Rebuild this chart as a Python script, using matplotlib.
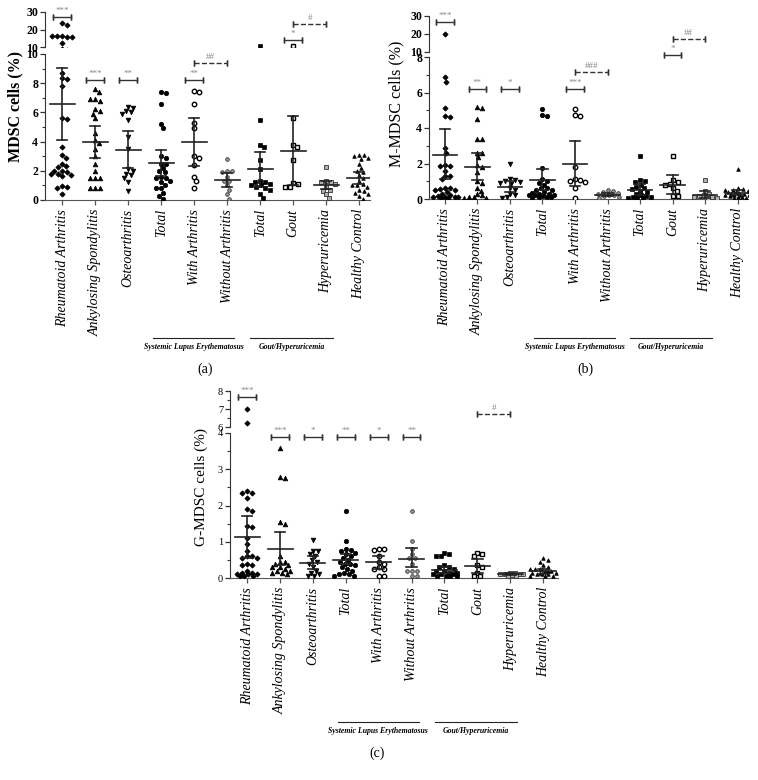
import numpy as np
import matplotlib
matplotlib.use('Agg')
import matplotlib.pyplot as plt
from matplotlib.transforms import blended_transform_factory

plt.rcParams['font.family'] = ['Liberation Serif', 'DejaVu Serif']

W, H = 758, 780

categories = ['Rheumatoid Arthritis', 'Ankylosing Spondylitis', 'Osteoarthritis', 'Total',
              'With Arthritis', 'Without Arthritis', 'Total', 'Gout', 'Hyperuricemia',
              'Healthy Control']
group_names = ['Systemic Lupus Erythematosus', 'Gout/Hyperuricemia']

# ---- panel (a): MDSC cells (%)
mdsc = [
    [23.5, 22.8, 16.5, 16.0, 16.3, 15.8, 16.5, 12.5, 8.7, 8.35, 8.3, 7.8, 5.6, 5.55, 3.6,
     3.1, 2.9, 2.45, 2.3, 2.25, 2.0, 1.9, 1.8, 1.7, 1.65, 2.0, 1.75, 0.95, 0.9, 0.85, 0.4],
    [7.6, 7.4, 6.9, 6.8, 6.9, 6.2, 6.1, 5.9, 5.6, 4.6, 4.1, 3.9, 3.5, 3.0, 2.5, 2.0, 1.5,
     1.5, 1.5, 0.8, 0.8, 0.8],
    [6.4, 6.3, 6.1, 6.0, 5.9, 5.5, 4.3, 3.5, 2.1, 2.0, 1.8, 1.7, 1.5, 1.2, 0.6],
    [7.4, 7.35, 6.6, 5.2, 4.9, 3.0, 2.9, 2.5, 2.5, 2.2, 2.0, 1.9, 1.6, 1.5, 1.5, 1.3, 1.2,
     1.0, 0.8, 0.8, 0.5, 0.3, 0.1],
    [7.45, 7.4, 6.6, 5.3, 4.9, 3.0, 2.9, 2.4, 1.6, 1.3, 0.8],
    [2.8, 2.0, 2.0, 1.9, 1.6, 1.3, 1.3, 1.0, 0.7, 0.4, 0.1],
    [10.3, 5.5, 3.8, 3.6, 2.75, 2.1, 1.3, 1.2, 1.2, 1.1, 1.0, 1.0, 0.9, 0.8, 0.7, 0.4, 0.15],
    [10.3, 5.6, 3.8, 3.6, 2.75, 1.15, 1.1, 0.9, 0.9],
    [2.25, 1.3, 1.25, 1.2, 1.1, 0.9, 0.7, 0.65, 0.4, 0.15],
    [3.1, 3.05, 3.0, 2.9, 2.8, 2.5, 2.2, 2.0, 1.9, 1.7, 1.5, 1.3, 1.1, 1.0, 1.0, 0.9, 0.7,
     0.6, 0.5, 0.4, 0.3, 0.1],
]
mdsc_mean = [6.55, 4.0, 3.45, 2.55, 3.95, 1.35, 2.1, 3.35, 1.0, 1.5]
mdsc_lo = [4.1, 2.9, 2.2, 1.65, 2.3, 0.9, 0.9, 1.0, 0.75, 1.1]
mdsc_hi = [9.05, 5.1, 4.7, 3.45, 5.6, 1.85, 3.3, 5.75, 1.3, 1.9]
mdsc_sig_from = [0, 1, 2, 4, 4, 7, 7]
mdsc_sig_to = [0, 1, 2, 4, 5, 7, 8]
mdsc_sig_y = [27.1, 8.2, 8.2, 8.2, 9.4, 13.8, 23.1]
mdsc_sig_text = ['***', '***', '**', '**', '##', '*', '#']

# ---- panel (b): M-MDSC cells (%)
mmdsc = [
    [20.0, 6.85, 6.6, 5.1, 4.7, 4.6, 2.85, 2.6, 1.9, 1.85, 1.85, 1.6, 1.3, 1.3, 1.1, 0.6,
     0.6, 0.55, 0.5, 0.5, 0.4, 0.3, 0.2, 0.15, 0.1, 0.1, 0.1, 0.05, 0.05, 0.1],
    [5.2, 5.1, 4.5, 3.4, 3.4, 2.6, 2.6, 2.35, 1.9, 1.8, 1.5, 1.0, 0.9, 0.6, 0.45, 0.3, 0.2,
     0.1, 0.1, 0.05, 0.05],
    [2.0, 1.1, 1.05, 1.0, 0.95, 0.9, 0.85, 0.6, 0.5, 0.3, 0.2, 0.1, 0.05],
    [5.05, 4.75, 4.65, 1.75, 1.1, 1.0, 0.9, 0.8, 0.6, 0.6, 0.5, 0.5, 0.4, 0.35, 0.3, 0.3,
     0.25, 0.2, 0.2, 0.15, 0.1, 0.1, 0.1, 0.05],
    [5.05, 4.75, 4.65, 1.8, 1.1, 1.05, 1.0, 0.95, 0.6, 0.05],
    [0.5, 0.45, 0.4, 0.35, 0.3, 0.25, 0.2, 0.15, 0.1, 0.05],
    [2.45, 1.05, 1.0, 0.95, 0.8, 0.7, 0.6, 0.55, 0.45, 0.4, 0.3, 0.2, 0.15, 0.1, 0.1, 0.05,
     0.05, 0.05],
    [2.45, 1.05, 0.95, 0.85, 0.8, 0.6, 0.45, 0.15, 0.15],
    [1.05, 0.45, 0.3, 0.2, 0.15, 0.1, 0.1, 0.05, 0.05],
    [1.7, 0.6, 0.55, 0.5, 0.45, 0.4, 0.35, 0.3, 0.25, 0.2, 0.2, 0.15, 0.1, 0.1, 0.05, 0.05,
     0.3, 0.4, 0.5, 0.2],
]
mmdsc_mean = [2.5, 1.8, 0.7, 1.05, 2.0, 0.25, 0.5, 0.8, 0.25, 0.35]
mmdsc_lo = [1.1, 1.05, 0.4, 0.5, 0.75, 0.15, 0.25, 0.3, 0.05, 0.2]
mmdsc_hi = [3.95, 2.6, 1.0, 1.7, 3.25, 0.35, 0.85, 1.35, 0.45, 0.5]
mmdsc_sig_from = [0, 1, 2, 4, 4, 7, 7]
mmdsc_sig_to = [0, 1, 2, 4, 5, 7, 8]
mmdsc_sig_y = [26.5, 6.2, 6.2, 6.2, 7.17, 8.1, 17.0]
mmdsc_sig_text = ['***', '**', '*', '***', '###', '*', '##']

# ---- panel (c): G-MDSC cells (%)
gmdsc = [
    [7.0, 6.25, 2.4, 2.35, 2.35, 2.2, 1.9, 1.85, 1.43, 1.4, 1.1, 0.95, 0.75, 0.6, 0.6,
     0.55, 0.55, 0.4, 0.35, 0.35, 0.2, 0.15, 0.15, 0.1, 0.1, 0.1, 0.05, 0.05, 0.05],
    [3.6, 2.78, 2.75, 1.55, 1.5, 0.6, 0.45, 0.45, 0.4, 0.35, 0.3, 0.3, 0.25, 0.2, 0.2,
     0.15, 0.15, 0.1],
    [1.05, 0.75, 0.75, 0.65, 0.6, 0.5, 0.45, 0.4, 0.3, 0.2, 0.15, 0.1, 0.05, 0.05],
    [1.85, 1.02, 0.8, 0.78, 0.75, 0.7, 0.65, 0.6, 0.55, 0.5, 0.45, 0.4, 0.38, 0.35, 0.3,
     0.25, 0.2, 0.15, 0.1, 0.1, 0.05, 0.05],
    [0.8, 0.8, 0.78, 0.6, 0.45, 0.4, 0.3, 0.25, 0.25, 0.05, 0.05],
    [1.85, 1.02, 0.8, 0.65, 0.55, 0.55, 0.4, 0.2, 0.2, 0.2, 0.05, 0.05],
    [0.7, 0.65, 0.6, 0.6, 0.35, 0.3, 0.3, 0.25, 0.2, 0.2, 0.15, 0.15, 0.1, 0.1, 0.1, 0.05,
     0.05, 0.05, 0.05],
    [0.7, 0.65, 0.6, 0.35, 0.3, 0.15, 0.05, 0.05],
    [0.15, 0.15, 0.12, 0.1, 0.1, 0.08, 0.05, 0.05, 0.1],
    [0.55, 0.5, 0.45, 0.35, 0.3, 0.25, 0.25, 0.2, 0.2, 0.15, 0.15, 0.1, 0.1, 0.1, 0.05,
     0.05, 0.05, 0.2, 0.25, 0.15],
]
gmdsc_mean = [1.12, 0.8, 0.42, 0.5, 0.43, 0.53, 0.22, 0.33, 0.12, 0.18]
gmdsc_lo = [0.55, 0.35, 0.25, 0.38, 0.25, 0.3, 0.15, 0.15, 0.09, 0.1]
gmdsc_hi = [1.72, 1.28, 0.6, 0.65, 0.62, 0.83, 0.3, 0.52, 0.15, 0.25]
gmdsc_sig_from = [0, 1, 2, 3, 4, 5, 7]
gmdsc_sig_to = [0, 1, 2, 3, 4, 5, 8]
gmdsc_sig_y = [7.68, 3.88, 3.88, 3.88, 3.88, 3.88, 6.7]
gmdsc_sig_text = ['***', '***', '*', '**', '*', '**', '#']

# marker look per category
styles = [
    dict(marker='D', ms=2.7, mfc='k', mec='k'),
    dict(marker='^', ms=3.4, mfc='k', mec='k'),
    dict(marker='v', ms=3.4, mfc='k', mec='k'),
    dict(marker='o', ms=3.2, mfc='k', mec='k'),
    dict(marker='o', ms=3.2, mfc='white', mec='k', mew=1.0),
    dict(marker='o', ms=2.6, mfc='#9a9a9a', mec='#333', mew=0.6),
    dict(marker='s', ms=3.2, mfc='k', mec='k'),
    dict(marker='s', ms=3.2, mfc='white', mec='k', mew=1.0),
    dict(marker='s', ms=2.6, mfc='#b0b0b0', mec='#333', mew=0.6),
    dict(marker='^', ms=2.6, mfc='k', mec='k'),
]


def px_rect(x0, y0, x1, y1):
    return [x0 / W, 1 - y1 / H, (x1 - x0) / W, (y1 - y0) / H]


def swarm(vals, ypx, d=4.5):
    # simple beeswarm in pixel space, returns x offsets in pixels
    placed = []
    offs = []
    for v in vals:
        y = ypx(v)
        cands = [0]
        for k in range(1, 14):
            cands += [k, -k]
        best, best_gap = 0, -1
        for x in cands:
            gap = min([np.hypot(x - px, y - py) for px, py in placed] or [99])
            if gap >= d:
                best = x
                break
            if gap > best_gap:
                best, best_gap = x, gap
        placed.append((best, y))
        offs.append(best)
    return offs


def panel(p):
    fig = p['fig']
    x0, x1 = p['xpx']
    lo_y0, lo_y1 = p['lower_px']
    up_y0, up_y1 = p['upper_px']
    axl = fig.add_axes(px_rect(x0, lo_y0, x1, lo_y1))
    axu = fig.add_axes(px_rect(x0, up_y0, x1, up_y1))
    for ax in (axl, axu):
        ax.set_xlim(p['xlim'])
        ax.patch.set_alpha(0)
        for s in ['top', 'right']:
            ax.spines[s].set_visible(False)
        ax.spines['left'].set_color('#333')
        ax.spines['bottom'].set_color('#555')
    axl.set_ylim(p['lower_lim'])
    axu.set_ylim(p['upper_lim'])
    axu.spines['bottom'].set_visible(False)
    axu.set_xticks([])

    cat_w = (x1 - x0) / (p['xlim'][1] - p['xlim'][0])
    lsc = (lo_y1 - lo_y0) / (p['lower_lim'][1] - p['lower_lim'][0])
    usc = (up_y1 - up_y0) / (p['upper_lim'][1] - p['upper_lim'][0])

    def ypx(v):
        if v <= p['lower_lim'][1]:
            return v * lsc
        return (lo_y1 - up_y1) + (v - p['upper_lim'][0]) * usc

    for i, vals in enumerate(p['data']):
        offs = np.array(swarm(vals, ypx)) / cat_w
        st = styles[i]
        for ax in (axl, axu):
            ax.plot(i + offs, vals, ls='none', marker=st['marker'], ms=st['ms'],
                    mfc=st['mfc'], mec=st['mec'], mew=st.get('mew', 0.5), zorder=3)
            ax.plot([i - 0.38, i + 0.38], [p['mean'][i]] * 2, color='#222', lw=1.2, zorder=4)
            ax.plot([i, i], [p['lo'][i], p['hi'][i]], color='#222', lw=1.2, zorder=4)
            ax.plot([i - 0.16, i + 0.16], [p['lo'][i]] * 2, color='#222', lw=1.2, zorder=4)
            ax.plot([i - 0.16, i + 0.16], [p['hi'][i]] * 2, color='#222', lw=1.2, zorder=4)

    # significance brackets
    for a, b, y, t in zip(p['sig_from'], p['sig_to'], p['sig_y'], p['sig_text']):
        ax = axu if y >= p['upper_lim'][0] else axl
        if a == b:
            xs, ls = [a - 0.27, a + 0.27], '-'
        else:
            xs, ls = [a, b], '--'
        ax.plot(xs, [y, y], color='#333', lw=1.0, ls=ls, clip_on=False, zorder=5)
        for xe in xs:
            ax.plot([xe, xe], [y, y], marker='|', ms=5, mew=1.0, color='#333', clip_on=False)
        ax.annotate(t, ((xs[0] + xs[1]) / 2, y), xytext=(0, 1.5), textcoords='offset points',
                    ha='center', va='bottom', fontsize=6.5, color='#888',
                    annotation_clip=False)

    # ticks
    axl.set_yticks(p['lower_ticks'])
    axu.set_yticks(p['upper_ticks'])
    axl.set_yticks(p['lower_minor'], minor=True)
    axu.set_yticks(p['upper_minor'], minor=True)
    for ax in (axl, axu):
        ax.tick_params(axis='y', direction='out', length=3.5, width=0.9, pad=1.5,
                       labelsize=p['ytick_size'], color='#333')
        ax.tick_params(axis='y', which='minor', length=2, width=0.8, color='#333')
        for lab in ax.get_yticklabels():
            lab.set_fontweight(p['ytick_weight'])
    axl.set_xticks(range(len(categories)))
    axl.set_xticklabels(categories, rotation=90, style='italic', fontsize=10)
    axl.tick_params(axis='x', direction='out', length=3.5, width=0.9, pad=3, color='#555')

    # group lines below the labels
    tr = blended_transform_factory(axl.transData, fig.transFigure)
    gl_y = 1 - p['group_line_px'] / H
    gt_y = 1 - p['group_text_px'] / H
    for (ga, gb), name in zip([(2.75, 5.22), (5.7, 8.2)], group_names):
        axl.plot([ga, gb], [gl_y, gl_y], color='#222', lw=0.8, transform=tr, clip_on=False)
        axl.text((ga + gb) / 2, gt_y, name, transform=tr, ha='center', va='center',
                 fontsize=5.6, style='italic', fontweight='bold')

    fig.text(p['ylabel_px'][0] / W, 1 - p['ylabel_px'][1] / H, p['ylabel'], rotation=90,
             ha='center', va='center', fontsize=p['ylabel_size'], fontweight=p['ylabel_weight'])
    fig.text(p['tag_px'][0] / W, 1 - p['tag_px'][1] / H, p['tag'], ha='center', va='center',
             fontsize=10)


fig = plt.figure(figsize=(W / 100, H / 100), dpi=100)

panel(dict(fig=fig, xpx=(45, 370), lower_px=(54, 200), upper_px=(12, 47),
           xlim=(-0.52, 9.33), lower_lim=(0, 10), upper_lim=(10, 30),
           lower_ticks=[0, 2, 4, 6, 8, 10], upper_ticks=[10, 20, 30],
           lower_minor=[1, 3, 5, 7, 9], upper_minor=[],
           data=mdsc, mean=mdsc_mean, lo=mdsc_lo, hi=mdsc_hi,
           sig_from=mdsc_sig_from, sig_to=mdsc_sig_to, sig_y=mdsc_sig_y, sig_text=mdsc_sig_text,
           ytick_size=8.5, ytick_weight='bold', group_line_px=338, group_text_px=347,
           ylabel='MDSC cells (%)', ylabel_px=(15, 106), ylabel_size=11.5, ylabel_weight='bold',
           tag='(a)', tag_px=(205, 369)))

panel(dict(fig=fig, xpx=(429, 748), lower_px=(57, 199), upper_px=(16, 52),
           xlim=(-0.49, 9.32), lower_lim=(0, 8), upper_lim=(10, 30),
           lower_ticks=[0, 2, 4, 6, 8], upper_ticks=[10, 20, 30],
           lower_minor=[1, 3, 5, 7], upper_minor=[],
           data=mmdsc, mean=mmdsc_mean, lo=mmdsc_lo, hi=mmdsc_hi,
           sig_from=mmdsc_sig_from, sig_to=mmdsc_sig_to, sig_y=mmdsc_sig_y,
           sig_text=mmdsc_sig_text,
           ytick_size=8.5, ytick_weight='bold', group_line_px=338, group_text_px=347,
           ylabel='M-MDSC cells (%)', ylabel_px=(396, 104), ylabel_size=11.5,
           ylabel_weight='normal', tag='(b)', tag_px=(585, 369)))

panel(dict(fig=fig, xpx=(230, 558), lower_px=(433, 578), upper_px=(391, 427),
           xlim=(-0.52, 9.45), lower_lim=(0, 4), upper_lim=(6, 8),
           lower_ticks=[0, 1, 2, 3, 4], upper_ticks=[6, 7, 8],
           lower_minor=[0.5, 1.5, 2.5, 3.5], upper_minor=[6.5, 7.5],
           data=gmdsc, mean=gmdsc_mean, lo=gmdsc_lo, hi=gmdsc_hi,
           sig_from=gmdsc_sig_from, sig_to=gmdsc_sig_to, sig_y=gmdsc_sig_y,
           sig_text=gmdsc_sig_text,
           ytick_size=7.5, ytick_weight='normal', group_line_px=722, group_text_px=731,
           ylabel='G-MDSC cells (%)', ylabel_px=(201, 487), ylabel_size=11,
           ylabel_weight='normal', tag='(c)', tag_px=(377, 753)))

fig.savefig('out.png', dpi=100)
